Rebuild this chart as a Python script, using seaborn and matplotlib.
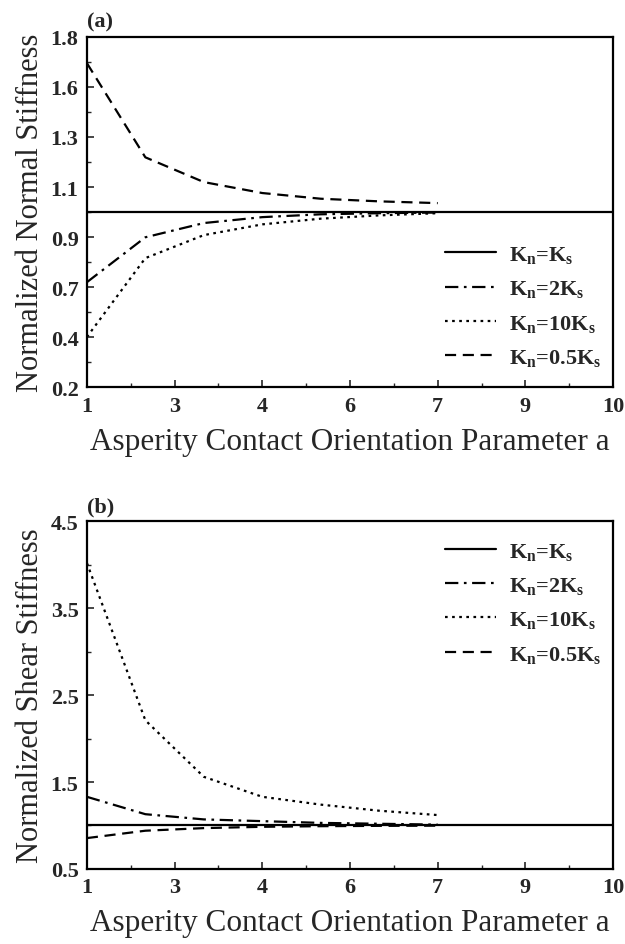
import numpy as np
import pandas as pd
import seaborn as sns
import matplotlib
matplotlib.use("Agg")
import matplotlib.pyplot as plt
from matplotlib.ticker import FixedLocator, AutoMinorLocator

# ---------------- data ----------------
a_vals = [1, 2, 3, 4, 5, 6, 7]
a_ref = [1, 10]

# (a) normalized normal stiffness
normal_ks = [1.0, 1.0]
normal_2ks = [0.68, 0.885, 0.95, 0.977, 0.99, 0.995, 0.998]
normal_10ks = [0.43, 0.79, 0.895, 0.944, 0.97, 0.985, 0.995]
normal_05ks = [1.68, 1.25, 1.137, 1.087, 1.061, 1.049, 1.041]

# (b) normalized shear stiffness
shear_ks = [1.0, 1.0]
shear_2ks = [1.33, 1.13, 1.07, 1.05, 1.03, 1.02, 1.01]
shear_10ks = [4.02, 2.21, 1.56, 1.33, 1.24, 1.17, 1.12]
shear_05ks = [0.855, 0.94, 0.97, 0.985, 0.992, 0.996, 0.998]

legend_labels = [r"K$_\mathregular{n}$=K$_\mathregular{s}$",
                 r"K$_\mathregular{n}$=2K$_\mathregular{s}$",
                 r"K$_\mathregular{n}$=10K$_\mathregular{s}$",
                 r"K$_\mathregular{n}$=0.5K$_\mathregular{s}$"]

x_ticks = [1, 2.5, 4, 5.5, 7, 8.5, 10]
x_ticklabels = ["1", "3", "4", "6", "7", "9", "10"]
ya_ticks = list(np.linspace(0.2, 1.8, 8))
ya_ticklabels = ["0.2", "0.4", "0.7", "0.9", "1.1", "1.3", "1.6", "1.8"]
yb_ticks = [0.5, 1.5, 2.5, 3.5, 4.5]
yb_ticklabels = ["0.5", "1.5", "2.5", "3.5", "4.5"]

xlabel = "Asperity Contact Orientation Parameter a"
ylabel_a = "Normalized Normal Stiffness"
ylabel_b = "Normalized Shear Stiffness"

# ---------------- style ----------------
sns.set_theme(style="ticks")
plt.rcParams["font.family"] = ["Liberation Serif", "DejaVu Serif"]
plt.rcParams["mathtext.default"] = "regular"

styles = ["-", (0, (6, 2.5, 1.2, 2.5)), (0, (1.2, 2)), (0, (5, 3))]
lw = 1.6

fig = plt.figure(figsize=(6.25, 9.45), dpi=100)
ax1 = fig.add_axes([0.139, 0.589, 0.842, 0.371])
ax2 = fig.add_axes([0.139, 0.0794, 0.842, 0.368])


def draw(ax, ref, s2, s10, s05, yticks, yticklabels, ylim, ylabel, tag,
         leg_loc, leg_anchor):
    series = [(a_ref, ref), (a_vals, s2), (a_vals, s10), (a_vals, s05)]
    for (xs, ys), ls, lab in zip(series, styles, legend_labels):
        sns.lineplot(x=xs, y=ys, ax=ax, color="black", linestyle=ls,
                     linewidth=lw, label=lab)
    ax.set_xlim(1, 10)
    ax.set_ylim(*ylim)
    ax.xaxis.set_major_locator(FixedLocator(x_ticks))
    ax.set_xticklabels(x_ticklabels, fontsize=16, fontweight="bold")
    ax.yaxis.set_major_locator(FixedLocator(yticks))
    ax.set_yticklabels(yticklabels, fontsize=16, fontweight="bold")
    ax.xaxis.set_minor_locator(AutoMinorLocator(2))
    ax.yaxis.set_minor_locator(AutoMinorLocator(2))
    ax.tick_params(which="major", direction="in", length=5, width=1.2, pad=6,
                   top=False, right=False)
    ax.tick_params(which="minor", direction="in", length=3, width=1,
                   top=False, right=False)
    for sp in ax.spines.values():
        sp.set_linewidth(1.6)
        sp.set_color("black")
    ax.set_xlabel(xlabel, fontsize=22.5, labelpad=8)
    ax.set_ylabel(ylabel, fontsize=22, labelpad=4)
    ax.text(0.0, 1.015, tag, transform=ax.transAxes, fontsize=16,
            fontweight="bold", ha="left", va="bottom")
    leg = ax.legend(loc=leg_loc, bbox_to_anchor=leg_anchor, frameon=False,
                    handlelength=2.3, handletextpad=0.6, labelspacing=0.6,
                    borderaxespad=0.0,
                    prop={"size": 16, "weight": "bold"})
    for line in leg.get_lines():
        line.set_linewidth(lw)


draw(ax1, normal_ks, normal_2ks, normal_10ks, normal_05ks,
     ya_ticks, ya_ticklabels, (0.2, 1.8), ylabel_a, "(a)", "lower right",
     (0.995, 0.03))
draw(ax2, shear_ks, shear_2ks, shear_10ks, shear_05ks,
     yb_ticks, yb_ticklabels, (0.5, 4.5), ylabel_b, "(b)", "upper right",
     (0.995, 0.97))

fig.savefig("out.png", dpi=100)
